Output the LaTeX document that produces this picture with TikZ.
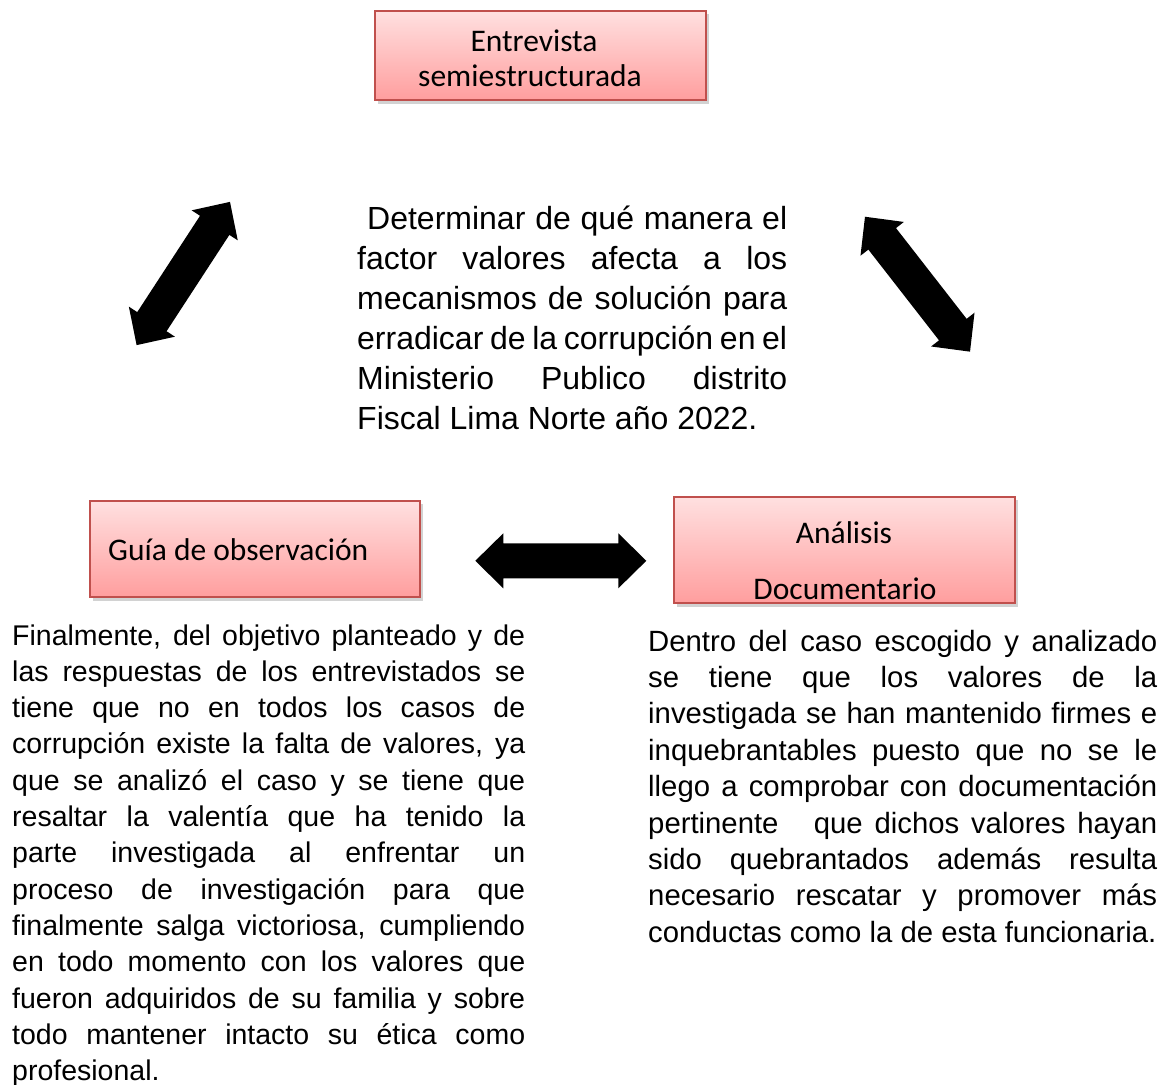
\documentclass[tikz,border=0pt]{standalone}
\usepackage{fontspec}
\setmainfont{Liberation Sans}
\newfontfamily\calibri{Carlito}
\usetikzlibrary{calc}
\definecolor{boxtop}{HTML}{FFE0E0}
\definecolor{boxbot}{HTML}{FF9E9E}
\definecolor{boxline}{HTML}{C0504D}
\newcommand{\jl}[2]{\makebox[#1][s]{#2}}
\newcommand{\dblarr}[3]{% center, angle, name
  \begin{scope}[shift={#1},rotate=#2]
    \fill[black] (-85.5,0) -- (-57.5,27.5) -- (-57.5,17.5) -- (57.5,17.5) -- (57.5,27.5)
      -- (85.5,0) -- (57.5,-27.5) -- (57.5,-17.5) -- (-57.5,-17.5) -- (-57.5,-27.5) -- cycle;
    \coordinate (#3) at (0,0);
  \end{scope}}
\tikzset{
  pinkbox/.style={draw=boxline, line width=1.6pt, top color=boxtop, bottom color=boxbot,
    inner sep=0pt},
  boxfont/.style={font=\calibri\fontsize{31.5}{35}\selectfont},
  shadowbox/.style={fill=black!35, opacity=0.5},
  bodytext/.style={inner sep=0pt, align=left, anchor=base west}
}
\begin{document}
\begin{tikzpicture}[x=1pt,y=-1pt]
\useasboundingbox (0,0) rectangle (1166,1084);
% shadows
\fill[shadowbox] (378,14) rectangle (709,104);
\fill[shadowbox] (93,504) rectangle (423,601);
\fill[shadowbox] (677,500) rectangle (1018,607);
% boxes
\draw[pinkbox] (375,11) rectangle (706,100);
\draw[pinkbox] (90,501) rectangle (420,597);
\draw[pinkbox] (674,497) rectangle (1015,603);
\node[boxfont, anchor=base] (entre1) at (534,51) {Entrevista};
\node[boxfont, anchor=base] (entre2) at (530,86) {semiestructurada};
\node[boxfont, anchor=base west, inner sep=0pt] (guia) at (108,560) {Guía de observación};
\node[boxfont, anchor=base] (anal1) at (844,543) {Análisis};
\node[boxfont, anchor=base] (anal2) at (845,599) {Documentario};
% arrows
\dblarr{(183.3,273.5)}{56.9}{arrL}
\dblarr{(917.5,284.2)}{-52.1}{arrR}
\dblarr{(560.8,560.8)}{0}{arrB}
% central text
\node[bodytext, text width=430pt, font=\fontsize{32}{40}\selectfont] (obj) at (357,229) {%
\spaceskip=0pt\xspaceskip=0pt
\jl{430pt}{\hspace*{10pt}Determinar de qué manera el}\\
\jl{430pt}{factor valores afecta a los}\\
\jl{430pt}{mecanismos de solución para}\\
\jl{430pt}{erradicar de la corrupción en el}\\
\jl{430pt}{Ministerio Publico distrito}\\
Fiscal Lima Norte año 2022.};
% bottom left text
\node[bodytext, text width=513pt, font=\fontsize{28.5}{36.3}\selectfont] (txtL) at (12,645) {%
\spaceskip=0pt\xspaceskip=0pt
\jl{513pt}{Finalmente, del objetivo planteado y de}\\
\jl{513pt}{las respuestas de los entrevistados se}\\
\jl{513pt}{tiene que no en todos los casos de}\\
\jl{513pt}{corrupción existe la falta de valores, ya}\\
\jl{513pt}{que se analizó el caso y se tiene que}\\
\jl{513pt}{resaltar la valentía que ha tenido la}\\
\jl{513pt}{parte investigada al enfrentar un}\\
\jl{513pt}{proceso de investigación para que}\\
\jl{513pt}{finalmente salga victoriosa, cumpliendo}\\
\jl{513pt}{en todo momento con los valores que}\\
\jl{513pt}{fueron adquiridos de su familia y sobre}\\
\jl{513pt}{todo mantener intacto su ética como}\\
profesional.};
% bottom right text
\node[bodytext, text width=509pt, font=\fontsize{29.3}{36.4}\selectfont] (txtR) at (648,651) {%
\spaceskip=0pt\xspaceskip=0pt
\jl{509pt}{Dentro del caso escogido y analizado}\\
\jl{509pt}{se tiene que los valores de la}\\
\jl{509pt}{investigada se han mantenido firmes e}\\
\jl{509pt}{inquebrantables puesto que no se le}\\
\jl{509pt}{llego a comprobar con documentación}\\
\jl{509pt}{pertinente\ \ \ que dichos valores hayan}\\
\jl{509pt}{sido quebrantados además resulta}\\
\jl{509pt}{necesario rescatar y promover más}\\
conductas como la de esta funcionaria.};
\end{tikzpicture}
\end{document}
